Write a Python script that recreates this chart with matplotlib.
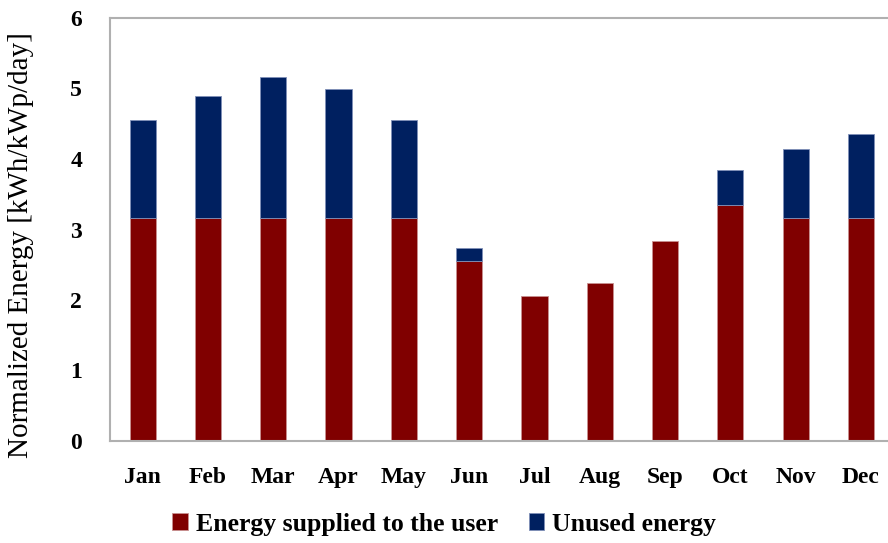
import matplotlib
matplotlib.use("Agg")
import matplotlib.pyplot as plt
import numpy as np

months = ["Jan", "Feb", "Mar", "Apr", "May", "Jun", "Jul", "Aug", "Sep", "Oct", "Nov", "Dec"]
supplied = [3.16, 3.17, 3.17, 3.17, 3.17, 2.56, 2.06, 2.24, 2.83, 3.35, 3.17, 3.17]
unused = [1.39, 1.72, 1.99, 1.82, 1.38, 0.18, 0.0, 0.0, 0.0, 0.49, 0.97, 1.18]

red = "#800000"
navy = "#002060"

plt.rcParams['font.family'] = ['Liberation Serif', 'DejaVu Serif']

fig = plt.figure(figsize=(8.88, 5.43), dpi=100)
ax = fig.add_axes([110/888, 1 - 441/543, 1 - 110/888 + 0.01, (441-18)/543])

x = np.arange(len(months))
ax.bar(x, supplied, width=0.4, color=red, edgecolor="#c89090", linewidth=0.6,
       label="Energy supplied to the user", zorder=2)
# no edge drawn on empty segments
u = np.array(unused)
ax.bar(x, u, width=0.4, bottom=supplied, color=navy, edgecolor="#8090b8",
       linewidth=np.where(u > 0, 0.6, 0.0), label="Unused energy", zorder=2)

ax.set_xlim(-0.5, 11.55)
ax.set_ylim(0, 6)
ax.set_yticks(range(7))
ax.set_xticks(x)
ax.set_xticklabels(months)
for lab in ax.get_xticklabels() + ax.get_yticklabels():
    lab.set_fontweight("bold")
    lab.set_fontsize(17)
ax.tick_params(axis="both", length=0)
ax.tick_params(axis="x", pad=19)
ax.tick_params(axis="y", pad=20)
for s in ax.spines.values():
    s.set_color("#b0b0b0")
    s.set_linewidth(1.5)

ax.set_ylabel("Normalized Energy [kWh/kWp/day]", fontsize=21)
ax.yaxis.set_label_coords(-0.097, 0.463)

leg = fig.legend(loc="center", bbox_to_anchor=(0.5, 1 - 524/543), ncol=2, frameon=False,
                 prop={"weight": "bold", "size": 18.5}, handlelength=0.6, handleheight=0.6,
                 columnspacing=1.2, handletextpad=0.3)

fig.savefig("out.png", dpi=100)
